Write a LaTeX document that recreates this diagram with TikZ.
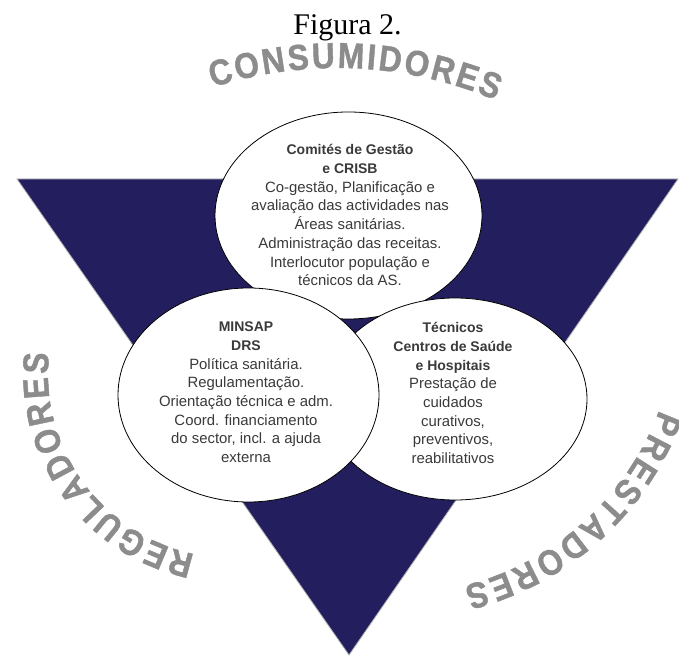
\documentclass[tikz,border=0pt]{standalone}
\usepackage{fontspec}
\setmainfont{Liberation Sans}
\newfontfamily\titlefont{Liberation Serif}
\newfontfamily\arcfont{Liberation Sans Bold}[FakeStretch=0.88, FakeBold=1.2]
\newcommand\arcstyle{\arcfont\fontsize{36}{36}\selectfont}
\usetikzlibrary{shapes.geometric,calc}
\definecolor{navy}{RGB}{35,31,94}
\definecolor{inkgray}{RGB}{58,58,58}
\definecolor{arcgray}{RGB}{140,140,140}
\begin{document}
\begin{tikzpicture}[x=1pt,y=1pt,
  bubble/.style={ellipse, draw=black, line width=0.8pt, fill=white, inner sep=0pt},
  bubbletext/.style={align=center, text=inkgray, anchor=north, inner sep=0pt,
    font=\fontsize{14.9}{18.7}\selectfont},
  arcletter/.style={font=\arcstyle, text=arcgray, anchor=base, inner sep=0pt}]
\useasboundingbox (0,0) rectangle (679,656);

% inverted triangle
\coordinate (tl) at (17,477);
\coordinate (tr) at (678,477);
\coordinate (bt) at (349,1);
\fill[navy, draw=gray!60, line width=0.8pt] (tl) -- (tr) -- (bt) -- cycle;

% the three actor ellipses
\node[bubble, minimum width=267pt, minimum height=207pt] (cons) at (348.5,440.5) {};
\node[bubble, minimum width=264pt, minimum height=202pt] (prest) at (455,257) {};
\node[bubble, minimum width=261pt, minimum height=214pt] (reg) at (248.5,261) {};

\node[bubbletext] (constext) at (350,511.6)
  {{\fontsize{14}{18.7}\selectfont\bfseries Comités de Gestão}\\
   {\fontsize{14}{18.7}\selectfont\bfseries e CRISB}\\
   Co-gestão, Planificação e\\
   avaliação das actividades nas\\
   Áreas sanitárias.\\
   Administração das receitas.\\
   Interlocutor população e\\
   técnicos da AS.};

\node[bubbletext] (regtext) at (246,334.2)
  {{\fontsize{14}{18.7}\selectfont\bfseries MINSAP}\\
   {\fontsize{14}{18.7}\selectfont\bfseries DRS}\\
   Política sanitária.\\
   Regulamentação.\\
   Orientação técnica e adm.\\
   Coord. financiamento\\
   do sector, incl. a ajuda\\
   externa};

\node[bubbletext] (presttext) at (453,333.7)
  {{\fontsize{14}{18.7}\selectfont\bfseries Técnicos}\\
   {\fontsize{14}{18.7}\selectfont\bfseries Centros de Saúde}\\
   {\fontsize{14}{18.7}\selectfont\bfseries e Hospitais}\\
   Prestação de\\
   cuidados\\
   curativos,\\
   preventivos,\\
   reabilitativos};

% title
\node[font=\titlefont\fontsize{30}{30}\selectfont, anchor=base, inner sep=0pt] (title)
  at (347.5,621) {Figura 2.};

% curved role labels: each letter sits on a circular baseline, tops outward
\coordinate (conscentre) at (337,181);
\coordinate (regcentre) at (232,282);
\coordinate (prestcentre) at (395,343);
\foreach \ch/\ang [count=\i] in {C/106.15, O/102.46, N/98.77, S/95.32, U/91.88,
    M/88.07, I/85.25, D/82.67, O/78.98, R/75.29, E/71.85, S/68.53}
  \node[arcletter, rotate=\ang-90] (consarc-\i) at ($(conscentre)+(\ang:407pt)$) {\ch};
\foreach \ch/\ang [count=\i] in {R/254.75, E/247.09, G/239.15, U/230.94, L/223.56,
    A/216.18, D/208.24, O/200.04, R/191.83, E/184.17, S/176.78}
  \node[arcletter, rotate=\ang-90] (regarc-\i) at ($(regcentre)+(\ang:184pt)$) {\ch};
\foreach \ch/\ang [count=\i] in {P/-22.30, R/-27.44, E/-32.58, S/-37.54, T/-42.33,
    A/-47.28, D/-52.60, O/-58.10, R/-63.60, E/-68.74, S/-73.70}
  \node[arcletter, rotate=\ang-90] (prestarc-\i) at ($(prestcentre)+(\ang:281.5pt)$) {\ch};
\end{tikzpicture}
\end{document}
